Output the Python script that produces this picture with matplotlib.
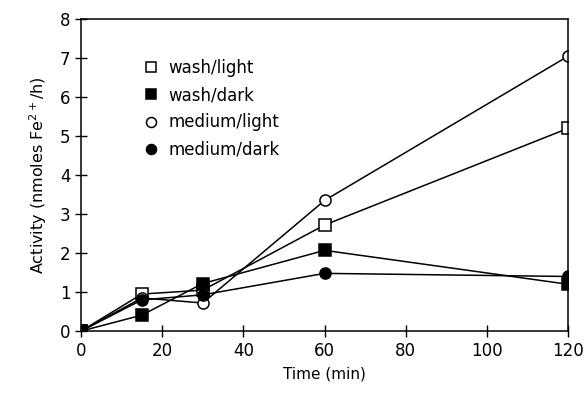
import matplotlib
matplotlib.use("Agg")
from matplotlib import pyplot as plt

# time points (min)
time = [0, 15, 30, 60, 120]

# activity (nmoles Fe2+/h)
wash_light = [0, 0.95, 1.05, 2.72, 5.2]
wash_dark = [0, 0.41, 1.22, 2.07, 1.2]
medium_light = [0, 0.85, 0.72, 3.35, 7.05]
medium_dark = [0, 0.8, 0.93, 1.48, 1.4]

plt.rcParams['font.family'] = ['DejaVu Sans']
fig = plt.figure(figsize=(5.87, 3.97), dpi=100)
ax = fig.add_axes([0.138, 0.166, 0.83, 0.786])

kw = dict(color="black", lw=1.1, ms=8, mew=1.1)
ax.plot(time, wash_light, marker="s", mfc="white", label="wash/light", **kw)
ax.plot(time, wash_dark, marker="s", mfc="black", label="wash/dark", **kw)
ax.plot(time, medium_light, marker="o", mfc="white", label="medium/light", **kw)
ax.plot(time, medium_dark, marker="o", mfc="black", label="medium/dark", **kw)

ax.set_xlim(0, 120)
ax.set_ylim(0, 8)
ax.set_xticks(range(0, 121, 20))
ax.set_yticks(range(0, 9))
ax.tick_params(direction="inout", length=8, width=1, labelsize=12)
for sp in ax.spines.values():
    sp.set_linewidth(1.1)

ax.set_xlabel("Time (min)", fontsize=11, labelpad=5)
ax.set_ylabel("Activity (nmoles Fe$^{2+}$/h)", fontsize=11.5, labelpad=8)

ax.legend(loc="upper left", bbox_to_anchor=(0.1, 0.92), frameon=False,
          fontsize=12, handlelength=0.8, handletextpad=0.6, labelspacing=0.55,
          markerscale=0.9)
for h in ax.get_legend().get_lines():
    h.set_linestyle("none")

fig.savefig("out.png", dpi=100)
